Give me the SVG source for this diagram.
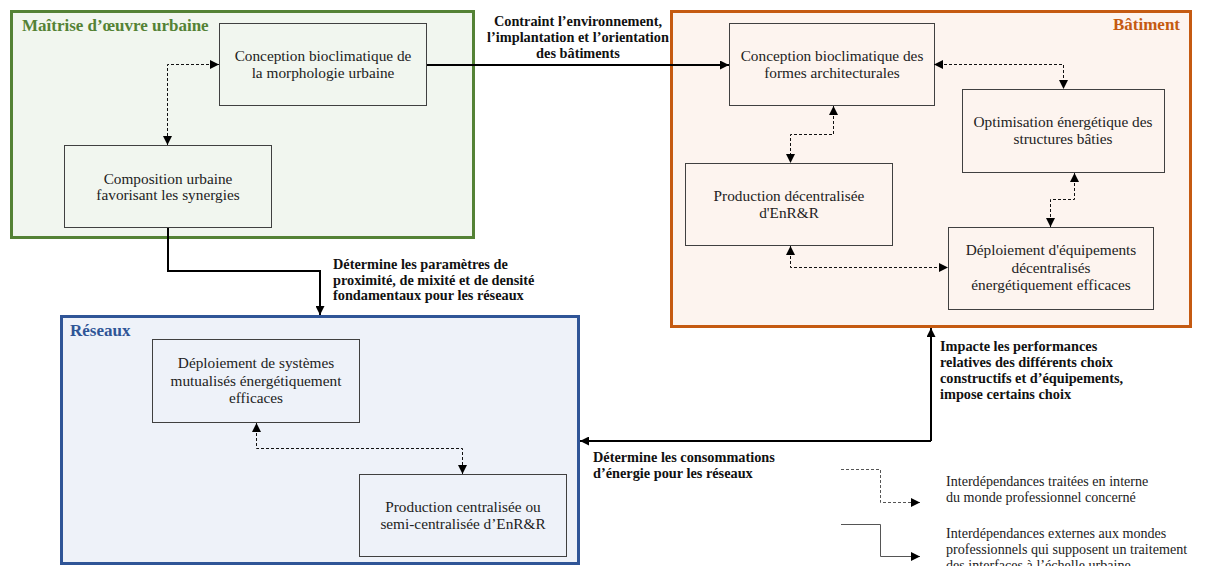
<svg xmlns="http://www.w3.org/2000/svg" width="1223" height="566" viewBox="0 0 1223 566">
<defs>
<style>
.node{fill:none;stroke:#404040;stroke-width:1}
.t{font-family:"Liberation Serif",serif;font-size:15.3px;fill:#222;text-anchor:middle}
.lab{font-family:"Liberation Serif",serif;font-size:14.3px;font-weight:bold;fill:#111}
.leg{font-family:"Liberation Serif",serif;font-size:14.1px;fill:#222}
.title{font-family:"Liberation Serif",serif;font-size:17px;font-weight:bold}
.dash{fill:none;stroke:#111;stroke-width:1;stroke-dasharray:3,2}
.solid{fill:none;stroke:#000;stroke-width:2}
</style>
<marker id="ah" viewBox="0 0 10 10" refX="10" refY="5" markerWidth="9" markerHeight="9" markerUnits="userSpaceOnUse" orient="auto-start-reverse">
<path d="M0,0 L10,5 L0,10 z" fill="#000"/>
</marker>
</defs>

<g id="grp-moe">
<rect x="11.5" y="11.5" width="462" height="226" fill="#f1f6ef" stroke="#548235" stroke-width="3"/>
<text class="title" x="22" y="31" fill="#548235">Maîtrise d’œuvre urbaine</text>
</g>
<g id="grp-bat">
<rect x="671.5" y="11.5" width="519" height="315" fill="#fdf4ef" stroke="#c55a11" stroke-width="3"/>
<text class="title" x="1180" y="30" fill="#c55a11" text-anchor="end">Bâtiment</text>
</g>
<g id="grp-res">
<rect x="61.5" y="316.5" width="517" height="247" fill="#eef2f9" stroke="#2f5597" stroke-width="3"/>
<text class="title" x="70" y="336" fill="#2f5597">Réseaux</text>
</g>

<g id="n-morpho">
<rect class="node" x="219.5" y="23.5" width="207" height="82"/>
<text class="t" x="323" y="61">Conception bioclimatique de</text>
<text class="t" x="323" y="78">la morphologie urbaine</text>
</g>
<g id="n-compo">
<rect class="node" x="64.5" y="145.5" width="207" height="82"/>
<text class="t" x="168" y="184">Composition urbaine</text>
<text class="t" x="168" y="200">favorisant les synergies</text>
</g>
<g id="n-formes">
<rect class="node" x="729.5" y="23.5" width="205" height="82"/>
<text class="t" x="832" y="61">Conception bioclimatique des</text>
<text class="t" x="832" y="78">formes architecturales</text>
</g>
<g id="n-optim">
<rect class="node" x="962.5" y="89.5" width="202" height="83"/>
<text class="t" x="1063" y="127">Optimisation énergétique des</text>
<text class="t" x="1063" y="144">structures bâties</text>
</g>
<g id="n-prod-dec">
<rect class="node" x="685.5" y="163.5" width="207" height="82"/>
<text class="t" x="789" y="201">Production décentralisée</text>
<text class="t" x="789" y="218">d'EnR&amp;R</text>
</g>
<g id="n-deploi-eq">
<rect class="node" x="948.5" y="227.5" width="205" height="82"/>
<text class="t" x="1051" y="255">Déploiement d'équipements</text>
<text class="t" x="1051" y="273">décentralisés</text>
<text class="t" x="1051" y="290">énergétiquement efficaces</text>
</g>
<g id="n-deploi-sys">
<rect class="node" x="152.5" y="339.5" width="207" height="83"/>
<text class="t" x="256" y="368">Déploiement de systèmes</text>
<text class="t" x="256" y="386">mutualisés énergétiquement</text>
<text class="t" x="256" y="403">efficaces</text>
</g>
<g id="n-prod-cen">
<rect class="node" x="359.5" y="474.5" width="207" height="82"/>
<text class="t" x="463" y="512">Production centralisée ou</text>
<text class="t" x="463" y="529">semi-centralisée d’EnR&amp;R</text>
</g>

<g id="connectors">
<path class="dash" d="M219,64.5 H167.5 V145" marker-start="url(#ah)" marker-end="url(#ah)"/>
<path class="dash" d="M934,64.5 H1063.5 V89" marker-start="url(#ah)" marker-end="url(#ah)"/>
<path class="dash" d="M833.5,106 V134.5 H790.5 V163" marker-start="url(#ah)" marker-end="url(#ah)"/>
<path class="dash" d="M1074.5,173 V199.5 H1050.5 V227" marker-start="url(#ah)" marker-end="url(#ah)"/>
<path class="dash" d="M790.5,246 V267.5 H948" marker-start="url(#ah)" marker-end="url(#ah)"/>
<path class="dash" d="M256.5,423 V448.5 H462.5 V474" marker-start="url(#ah)" marker-end="url(#ah)"/>
<path class="solid" d="M427,65 H729" marker-end="url(#ah)"/>
<path class="solid" d="M168,228 V271 H320 V315" marker-end="url(#ah)"/>
<path class="solid" d="M931,441 H580" marker-end="url(#ah)"/>
<path class="solid" d="M931,441 V328" marker-end="url(#ah)"/>
<text class="lab" text-anchor="middle"><tspan x="578" y="26">Contraint l’environnement,</tspan><tspan x="578" y="42">l’implantation et l’orientation</tspan><tspan x="578" y="58">des bâtiments</tspan></text>
<text class="lab"><tspan x="333" y="269">Détermine les paramètres de</tspan><tspan x="333" y="285">proximité, de mixité et de densité</tspan><tspan x="333" y="300">fondamentaux pour les réseaux</tspan></text>
<text class="lab"><tspan x="940" y="351">Impacte les performances</tspan><tspan x="940" y="367">relatives des différents choix</tspan><tspan x="940" y="383">constructifs et d’équipements,</tspan><tspan x="940" y="399">impose certains choix</tspan></text>
<text class="lab"><tspan x="593" y="462">Détermine les consommations</tspan><tspan x="593" y="478">d’énergie pour les réseaux</tspan></text>
</g>

<g id="legend">
<path d="M841,469.5 H880.5 V502.5 H920" fill="none" stroke="#555" stroke-width="1" stroke-dasharray="3,2" marker-end="url(#ah)"/>
<path d="M841,524.5 H880.5 V556.5 H920" fill="none" stroke="#555" stroke-width="1" marker-end="url(#ah)"/>
<text class="leg" x="946" y="486">Interdépendances traitées en interne</text>
<text class="leg" x="946" y="502">du monde professionnel concerné</text>
<text class="leg" x="946" y="538">Interdépendances externes aux mondes</text>
<text class="leg" x="946" y="554">professionnels qui supposent un traitement</text>
<text class="leg" x="946" y="570">des interfaces à l’échelle urbaine</text>
</g>
</svg>
